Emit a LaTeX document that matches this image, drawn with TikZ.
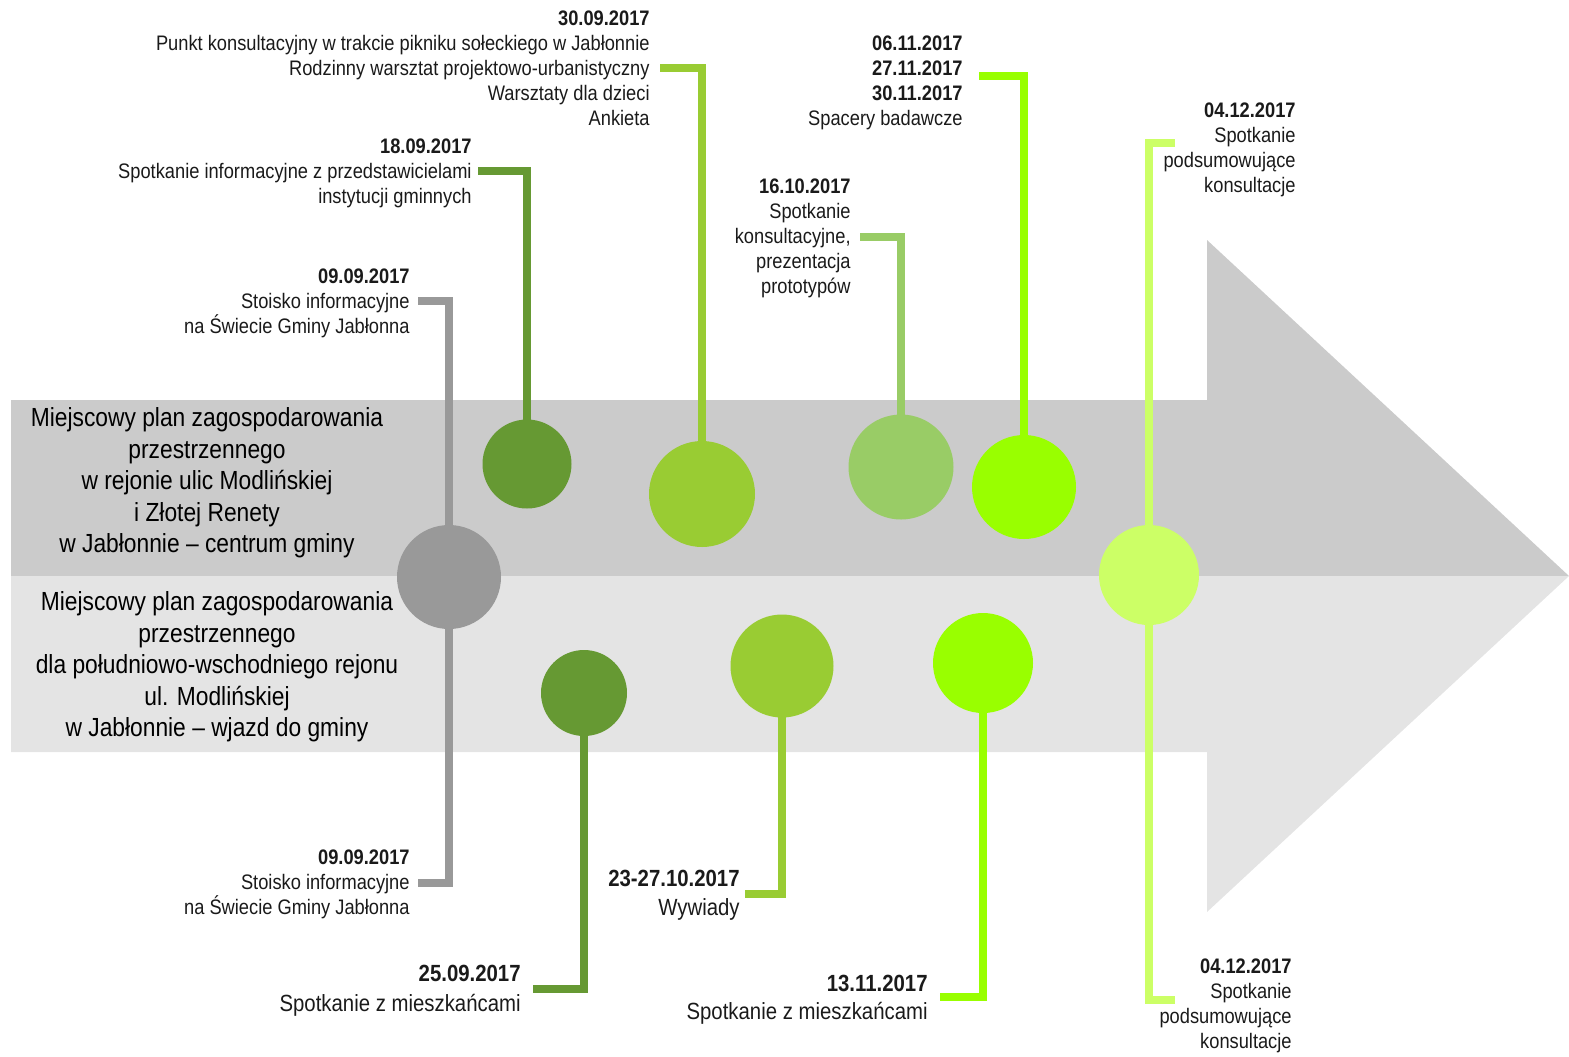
\documentclass[tikz,border=0pt]{standalone}
\usepackage{fontspec}
\setmainfont{Liberation Sans}[FakeStretch=0.87]
\definecolor{bandA}{HTML}{CBCBCB}
\definecolor{bandB}{HTML}{E4E4E4}
\definecolor{cgray}{HTML}{999999}
\definecolor{cdark}{HTML}{669933}
\definecolor{cmed}{HTML}{99CC33}
\definecolor{cpale}{HTML}{99CC66}
\definecolor{cbright}{HTML}{99FF00}
\definecolor{cyel}{HTML}{CCFF66}
\definecolor{txt}{HTML}{1A1A1A}
\tikzset{
  dot/.style={circle,minimum size=#1pt,inner sep=0pt,draw=none},
  conn/.style={line width=4pt,draw=#1},
  lbl/.style={anchor=north east,align=right,inner sep=0pt,text=txt,font=\fontsize{10.5}{12.5}\selectfont},
  lblbig/.style={lbl,font=\fontsize{11.7}{12.5}\selectfont},
  band/.style={align=center,inner sep=0pt,text=black,font=\fontsize{13.1}{15.75}\selectfont},
}
\begin{document}
\begin{tikzpicture}[x=0.5pt,y=-0.5pt]
\useasboundingbox (0,0) rectangle (1569,1056);
% arrow
\fill[bandA] (11,400) -- (1207,400) -- (1207,240) -- (1569,576) -- (11,576) -- cycle;
\fill[bandB] (11,576) -- (1569,576) -- (1207,912) -- (1207,752) -- (11,752) -- cycle;
% band texts
\node[band] (planA) at (207,483) {Miejscowy plan zagospodarowania\\przestrzennego\\w rejonie ulic Modlińskiej\\i Złotej Renety\\w Jabłonnie – centrum gminy};
\node[band] (planB) at (217,667) {Miejscowy plan zagospodarowania\\przestrzennego\\dla południowo-wschodniego rejonu\\ul. Modlińskiej\\w Jabłonnie – wjazd do gminy};
% circle centres
\coordinate (pG) at (449,577);
\coordinate (pA) at (527,464);
\coordinate (pB) at (702,494);
\coordinate (pC) at (901,467);
\coordinate (pD) at (1024,487);
\coordinate (pE) at (1149,575);
\coordinate (pF) at (584,693);
\coordinate (pH) at (782,666);
\coordinate (pI) at (983,663);
% labels
\node[lbl] (l0909a) at (410,268) {\textbf{09.09.2017}\\Stoisko informacyjne\\na Świecie Gminy Jabłonna};
\node[lbl] (l1809) at (472,138) {\textbf{18.09.2017}\\Spotkanie informacyjne z przedstawicielami\\instytucji gminnych};
\node[lbl] (l3009) at (650,10) {\textbf{30.09.2017}\\Punkt konsultacyjny w trakcie pikniku sołeckiego w Jabłonnie\\Rodzinny warsztat projektowo-urbanistyczny\\Warsztaty dla dzieci\\Ankieta};
\node[lbl] (l1610) at (851,178) {\textbf{16.10.2017}\\Spotkanie\\konsultacyjne,\\prezentacja\\prototypów};
\node[lbl] (l0611) at (963,35) {\textbf{06.11.2017}\\\textbf{27.11.2017}\\\textbf{30.11.2017}\\Spacery badawcze};
\node[lbl] (l0412a) at (1296,102) {\textbf{04.12.2017}\\Spotkanie\\podsumowujące\\konsultacje};
\node[lbl] (l0909b) at (410,849) {\textbf{09.09.2017}\\Stoisko informacyjne\\na Świecie Gminy Jabłonna};
\node[lblbig] (l2509) at (521,965) {\textbf{25.09.2017}\\[2.5pt]Spotkanie z mieszkańcami};
\node[lblbig] (l2310) at (740,870) {\textbf{23-27.10.2017}\\[2pt]Wywiady};
\node[lblbig] (l1311) at (928,975) {\textbf{13.11.2017}\\[1.5pt]Spotkanie z mieszkańcami};
\node[lbl] (l0412b) at (1292,958) {\textbf{04.12.2017}\\Spotkanie\\podsumowujące\\konsultacje};
% stub starts
\coordinate (s0909a) at (418,301);
\coordinate (s1809) at (478,171);
\coordinate (s3009) at (660,68);
\coordinate (s1610) at (860,237);
\coordinate (s0611) at (979,76);
\coordinate (s0412a) at (1175,143);
\coordinate (s0909b) at (418,883);
\coordinate (s2509) at (533,989);
\coordinate (s2310) at (745,894);
\coordinate (s1311) at (940,997);
\coordinate (s0412b) at (1175,1000);
% connectors
\draw[conn=cgray] (s0909a) -| (pG) |- (s0909b);
\draw[conn=cdark] (s1809) -| (pA);
\draw[conn=cmed] (s3009) -| (pB);
\draw[conn=cpale] (s1610) -| (pC);
\draw[conn=cbright] (s0611) -| (pD);
\draw[conn=cyel] (s0412a) -| (pE) |- (s0412b);
\draw[conn=cdark] (s2509) -| (pF);
\draw[conn=cmed] (s2310) -| (pH);
\draw[conn=cbright] (s1311) -| (pI);
% circles (diameter in pt = px/2)
\node[dot=52,fill=cgray] (cG) at (pG) {};
\node[dot=44.5,fill=cdark] (cA) at (pA) {};
\node[dot=53,fill=cmed] (cB) at (pB) {};
\node[dot=52.5,fill=cpale] (cC) at (pC) {};
\node[dot=52,fill=cbright] (cD) at (pD) {};
\node[dot=50,fill=cyel] (cE) at (pE) {};
\node[dot=43,fill=cdark] (cF) at (pF) {};
\node[dot=51.5,fill=cmed] (cH) at (pH) {};
\node[dot=50,fill=cbright] (cI) at (pI) {};
\end{tikzpicture}
\end{document}
